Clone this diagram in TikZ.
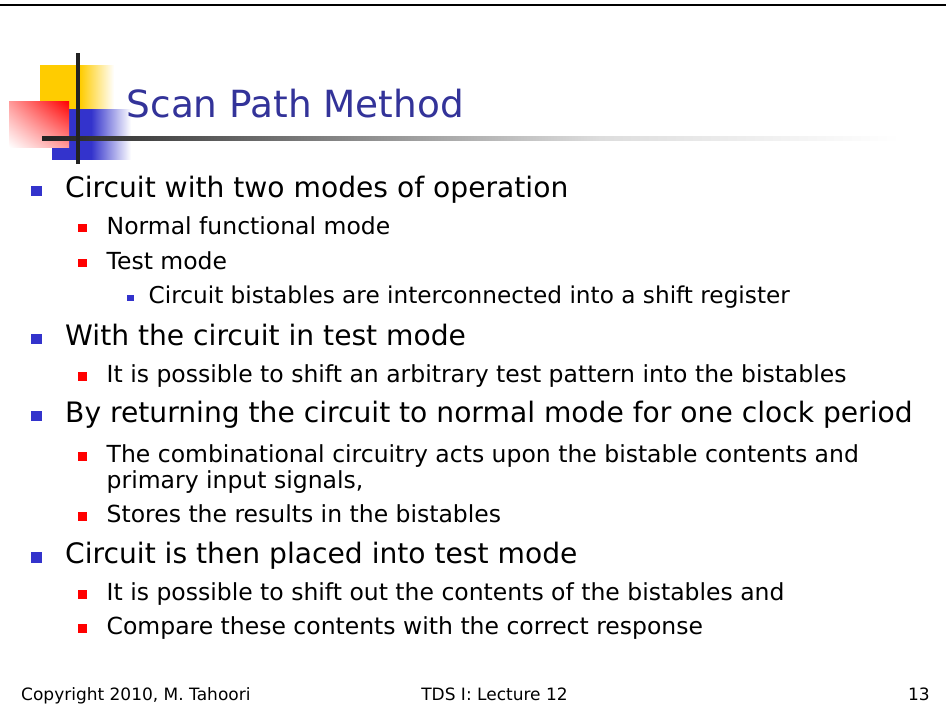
\documentclass[tikz,border=0pt]{standalone}
\usepackage{fontspec}
\setmainfont{DejaVu Sans}
\usetikzlibrary{shadings}
\definecolor{titleblue}{HTML}{333399}
\definecolor{bulletblue}{HTML}{3333CC}
\definecolor{logoyellow}{HTML}{FFCC00}
\definecolor{logoblue}{HTML}{3333CC}
\definecolor{bulletred}{HTML}{FF0000}
\definecolor{rulegray}{HTML}{222222}
\definecolor{rulelight}{HTML}{DDDDDD}
\tikzset{
  txtA/.style={anchor=base west, inner sep=0pt, font=\fontsize{28.15}{28}\selectfont},
  txtB/.style={anchor=base west, inner sep=0pt, font=\fontsize{23.5}{23.5}\selectfont},
  txtC/.style={anchor=base west, inner sep=0pt, font=\fontsize{23.2}{23.2}\selectfont},
  foot/.style={anchor=base west, inner sep=0pt, font=\fontsize{17}{17}\selectfont},
  bulA/.style={rectangle, fill=bulletblue, inner sep=0pt, minimum size=10.5pt, anchor=south west},
  bulB/.style={rectangle, fill=bulletred, inner sep=0pt, minimum size=8.5pt, anchor=south west},
  bulC/.style={rectangle, fill=bulletblue, inner sep=0pt, minimum size=6.5pt, anchor=south west},
}
\begin{document}
\begin{tikzpicture}[x=1pt,y=-1pt]
\useasboundingbox (0,0) rectangle (946,721);
\fill[white] (0,0) rectangle (946,721);

% top rule
\draw[line width=2.6pt, black] (0,5) -- (946,5);

% logo squares
\fill[logoyellow] (40,65) rectangle (80,109);
\shade[left color=logoyellow, right color=white] (80,65) rectangle (114,109);
\fill[logoblue] (52,109) rectangle (91,159.5);
\shade[left color=logoblue, right color=white] (91,109) rectangle (131,159.5);
\shade[upper right=bulletred, lower left=white, upper left=bulletred!40, lower right=bulletred!40] (9,101) rectangle (69,147);

% title underline fading out
\shade[left color=rulegray, right color=rulelight] (42,136.2) rectangle (600,140.8);
\shade[left color=rulelight, right color=white] (600,136.2) rectangle (900,140.8);
% vertical logo bar
\fill[rulegray] (76.2,53) rectangle (80,164);

% title
\node[anchor=base west, inner sep=0pt, text=titleblue, font=\fontsize{37.4}{37.4}\selectfont] (title) at (126.5,117) {Scan Path Method};

% bullets and text
\node[bulA] (b1) at (31,196.5) {};
\node[txtA] (t1) at (65,197) {Circuit with two modes of operation};
\node[bulB] (b2) at (78,232.5) {};
\node[txtB] (t2) at (106.5,234) {Normal functional mode};
\node[bulB] (b3) at (78,267.5) {};
\node[txtB] (t3) at (106.5,269) {Test mode};
\node[bulC] (b4) at (127,301.5) {};
\node[txtC] (t4) at (148.5,303) {Circuit bistables are interconnected into a shift register};

\node[bulA] (b5) at (31,344.5) {};
\node[txtA] (t5) at (65,345) {With the circuit in test mode};
\node[bulB] (b6) at (78,381) {};
\node[txtB] (t6) at (106.5,382) {It is possible to shift an arbitrary test pattern into the bistables};

\node[bulA] (b7) at (31,421.5) {};
\node[txtA] (t7) at (65,422) {By returning the circuit to normal mode for one clock period};
\node[bulB] (b8) at (78,461) {};
\node[txtB] (t8) at (106.5,462) {The combinational circuitry acts upon the bistable contents and};
\node[txtB] (t8b) at (106.5,488) {primary input signals,};
\node[bulB] (b9) at (78,521) {};
\node[txtB] (t9) at (106.5,522) {Stores the results in the bistables};

\node[bulA] (b10) at (31,563) {};
\node[txtA] (t10) at (65,563) {Circuit is then placed into test mode};
\node[bulB] (b11) at (78,599) {};
\node[txtB] (t11) at (106.5,600) {It is possible to shift out the contents of the bistables and};
\node[bulB] (b12) at (78,633) {};
\node[txtB] (t12) at (106.5,634) {Compare these contents with the correct response};

% footer
\node[foot] (f1) at (21,700) {Copyright 2010, M. Tahoori};
\node[foot, anchor=base] (f2) at (494.5,700) {TDS I: Lecture 12};
\node[foot, anchor=base east] (f3) at (930,700) {13};
\end{tikzpicture}
\end{document}
